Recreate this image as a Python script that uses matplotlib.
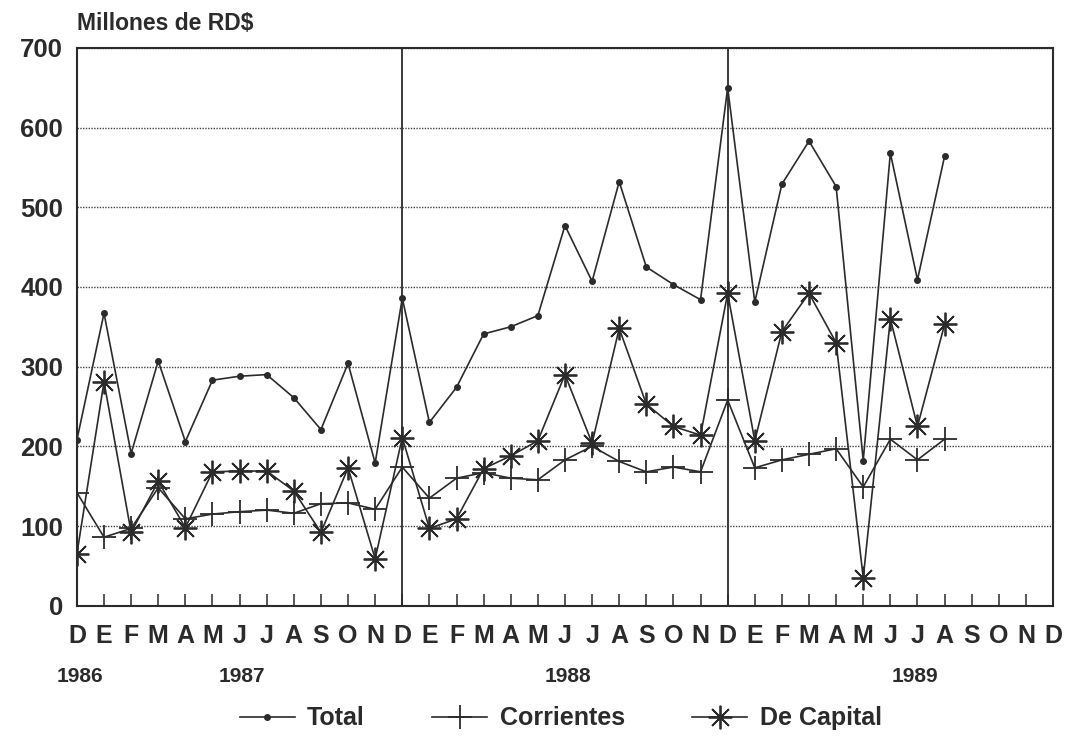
import matplotlib
matplotlib.use("Agg")
import matplotlib.pyplot as plt
from matplotlib import lines as mlines

plt.rcParams["font.family"] = ["Liberation Sans", "DejaVu Sans"]
plt.rcParams["font.weight"] = "bold"

# Dic 1986 .. Dic 1989 (eje), datos hasta Ago 1989
month_labels = list("DEFMAMJJASOND" + "EFMAMJJASOND" + "EFMAMJJASOND")
year_labels = ["1986", "1987", "1988", "1989"]
year_pos = [0.1, 6.1, 18.1, 30.9]

total = [208, 367, 191, 307, 206, 283, 288, 290, 261, 221, 304, 179, 386,
         230, 274, 341, 350, 364, 477, 407, 532, 425, 403, 384, 650,
         381, 529, 583, 526, 182, 568, 409, 564]
corrientes = [142, 86, 97, 148, 109, 115, 118, 120, 116, 128, 129, 121, 174,
              135, 160, 167, 160, 158, 183, 200, 181, 168, 174, 168, 258,
              173, 183, 190, 197, 149, 209, 183, 209]
capital = [65, 281, 92, 156, 98, 168, 169, 169, 144, 92, 173, 59, 211,
           97, 109, 172, 188, 207, 290, 204, 348, 253, 225, 214, 392,
           207, 344, 392, 330, 35, 360, 225, 353]

ink = "#2b2b2b"
fig = plt.figure(figsize=(10.68, 7.36), dpi=100)
ax = fig.add_axes([0.072, 0.177, 0.914, 0.758])

x = list(range(len(total)))
ax.plot(x, total, color=ink, lw=1.2, marker="o", ms=4)
ax.plot(x, corrientes, color=ink, lw=1.2, marker="+", ms=17, mew=1.3)
ax.plot(x, capital, color=ink, lw=1.2, marker=(8, 2, 0), ms=17, mew=1.3)

# separadores de año
for xv in (12, 24):
    ax.axvline(xv, color=ink, lw=1.3)

ax.set_xlim(0, 36)
ax.set_ylim(0, 700)
ax.set_yticks(range(0, 701, 100))
ax.set_yticklabels([str(v) for v in range(0, 701, 100)], fontsize=18.5, fontweight="bold")
ax.set_xticks(range(37))
ax.set_xticklabels(month_labels, fontsize=18, fontweight="bold")
ax.tick_params(axis="x", direction="in", length=9, width=1.1, color=ink, pad=13)
ax.tick_params(axis="y", length=0, pad=10)
ax.yaxis.grid(True, linestyle=(0, (1, 1)), color="#444444", lw=1.0)
for s in ax.spines.values():
    s.set_color(ink)
    s.set_linewidth(1.5)
for t in ax.get_xticklabels() + ax.get_yticklabels():
    t.set_color(ink)

for lbl, xp in zip(year_labels, year_pos):
    ax.text(xp, -0.127, lbl, transform=ax.get_xaxis_transform(), ha="center",
            va="center", fontsize=15, fontweight="bold", color=ink)

fig.text(0.072, 0.968, "Millones de RD\\$", fontsize=16.5, fontweight="bold",
         ha="left", va="center", color=ink)

handles = [
    mlines.Line2D([], [], color=ink, lw=1.2, marker="o", ms=4, label="Total"),
    mlines.Line2D([], [], color=ink, lw=1.2, marker="+", ms=17, mew=1.3, label="Corrientes"),
    mlines.Line2D([], [], color=ink, lw=1.2, marker=(8, 2, 0), ms=17, mew=1.3, label="De Capital"),
]
leg = fig.legend(handles=handles, loc="center", bbox_to_anchor=(0.525, 0.024), ncol=3,
                 frameon=False, prop={"size": 18, "weight": "bold"}, handlelength=2.2,
                 columnspacing=2.7, handletextpad=0.5)
for t in leg.get_texts():
    t.set_color(ink)

fig.savefig("out.png", dpi=100)
